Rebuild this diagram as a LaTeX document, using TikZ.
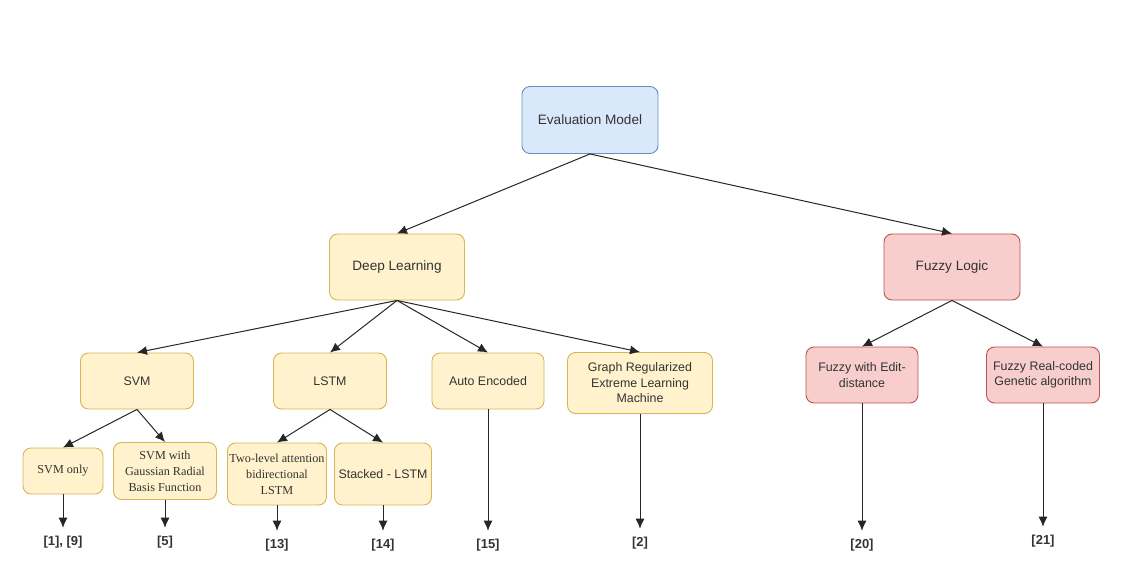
\documentclass[tikz,border=0pt]{standalone}
\usepackage{fontspec}
\setmainfont{Liberation Serif}
\setsansfont{Liberation Sans}
\usepackage{tikz}
\usetikzlibrary{positioning,arrows.meta}
\definecolor{rootfill}{HTML}{DAE8FC}
\definecolor{rootline}{HTML}{6C8EBF}
\definecolor{dlfill}{HTML}{FFF2CC}
\definecolor{dlline}{HTML}{D6B656}
\definecolor{fzfill}{HTML}{F8CECC}
\definecolor{fzline}{HTML}{B85450}
\definecolor{txt}{HTML}{333333}
\tikzset{box/.style={draw,rounded corners=8pt,line width=0.9pt,align=center,inner sep=1pt,text=txt,font=\sffamily\fontsize{12.4}{15.5}\selectfont}}
\tikzset{rootbox/.style={box,fill=rootfill,draw=rootline,font=\sffamily\fontsize{13.6}{16}\selectfont}}
\tikzset{dlbox/.style={box,fill=dlfill,draw=dlline}}
\tikzset{fzbox/.style={box,fill=fzfill,draw=fzline}}
\tikzset{serif/.style={font=\rmfamily\fontsize{12.2}{16}\selectfont}}
\tikzset{link/.style={-{Latex[length=10pt,width=9pt]},line width=1pt,black!85}}
\tikzset{ref/.style={text=txt,inner xsep=0pt,inner ysep=8pt,font=\sffamily\bfseries\fontsize{13}{15}\selectfont}}

\begin{document}
\begin{tikzpicture}[x=1pt,y=-1pt]
\useasboundingbox (0,0) rectangle (1130,572);

\node[rootbox,minimum width=136pt,minimum height=67pt] (eval) at (590,120) {Evaluation Model};
\node[rootbox,fill=dlfill,draw=dlline,minimum width=135pt,minimum height=66pt] (deep) at (397,267) {Deep Learning};
\node[rootbox,fill=fzfill,draw=fzline,minimum width=136pt,minimum height=66pt] (fuzzy) at (952,267) {Fuzzy Logic};

% second level
\node[dlbox,minimum width=113pt,minimum height=56pt] (svm) at (137,381) {SVM};
\node[dlbox,minimum width=113pt,minimum height=56pt] (lstm) at (330,381) {LSTM};
\node[dlbox,minimum width=112pt,minimum height=56pt] (auto) at (488,381) {Auto Encoded};
\node[dlbox,minimum width=145pt,minimum height=61pt] (graph) at (640,383) {Graph Regularized\\Extreme Learning\\Machine};
\node[fzbox,minimum width=112pt,minimum height=56pt] (edit) at (862,375) {Fuzzy with Edit-\\distance};
\node[fzbox,minimum width=113pt,minimum height=56pt] (genetic) at (1043,375) {Fuzzy Real-coded\\Genetic algorithm};

% third level
\node[dlbox,serif,minimum width=80pt,minimum height=46pt] (svmonly) at (63,471) {SVM only};
\node[dlbox,serif,minimum width=103pt,minimum height=57pt] (gauss) at (165,471) {SVM with\\Gaussian Radial\\Basis Function};
\node[dlbox,serif,minimum width=99pt,minimum height=62pt] (twolevel) at (277,474) {Two-level attention\\bidirectional\\LSTM};
\node[dlbox,minimum width=97pt,minimum height=62pt] (stacked) at (383,474) {Stacked - LSTM};

% references
\node[ref] (r1) at (63,542) {[1], [9]};
\node[ref] (r5) at (165,542) {[5]};
\node[ref] (r13) at (277,545) {[13]};
\node[ref] (r14) at (383,545) {[14]};
\node[ref] (r15) at (488,545) {[15]};
\node[ref] (r2) at (640,543) {[2]};
\node[ref] (r20) at (862,545) {[20]};
\node[ref] (r21) at (1043,541) {[21]};

\draw[link] (eval.south) -- (deep.north);
\draw[link] (eval.south) -- (fuzzy.north);
\foreach \c in {svm,lstm,auto,graph}
	\draw[link] (deep.south) -- (\c.north);
\foreach \c in {edit,genetic}
	\draw[link] (fuzzy.south) -- (\c.north);
\draw[link] (svm.south) -- (svmonly.north);
\draw[link] (svm.south) -- (gauss.north);
\draw[link] (lstm.south) -- (twolevel.north);
\draw[link] (lstm.south) -- (stacked.north);

\draw[link] (svmonly) -- (r1);
\draw[link] (gauss) -- (r5);
\draw[link] (twolevel) -- (r13);
\draw[link] (stacked) -- (r14);
\draw[link] (auto) -- (r15);
\draw[link] (graph) -- (r2);
\draw[link] (edit) -- (r20);
\draw[link] (genetic) -- (r21);
\end{tikzpicture}
\end{document}
